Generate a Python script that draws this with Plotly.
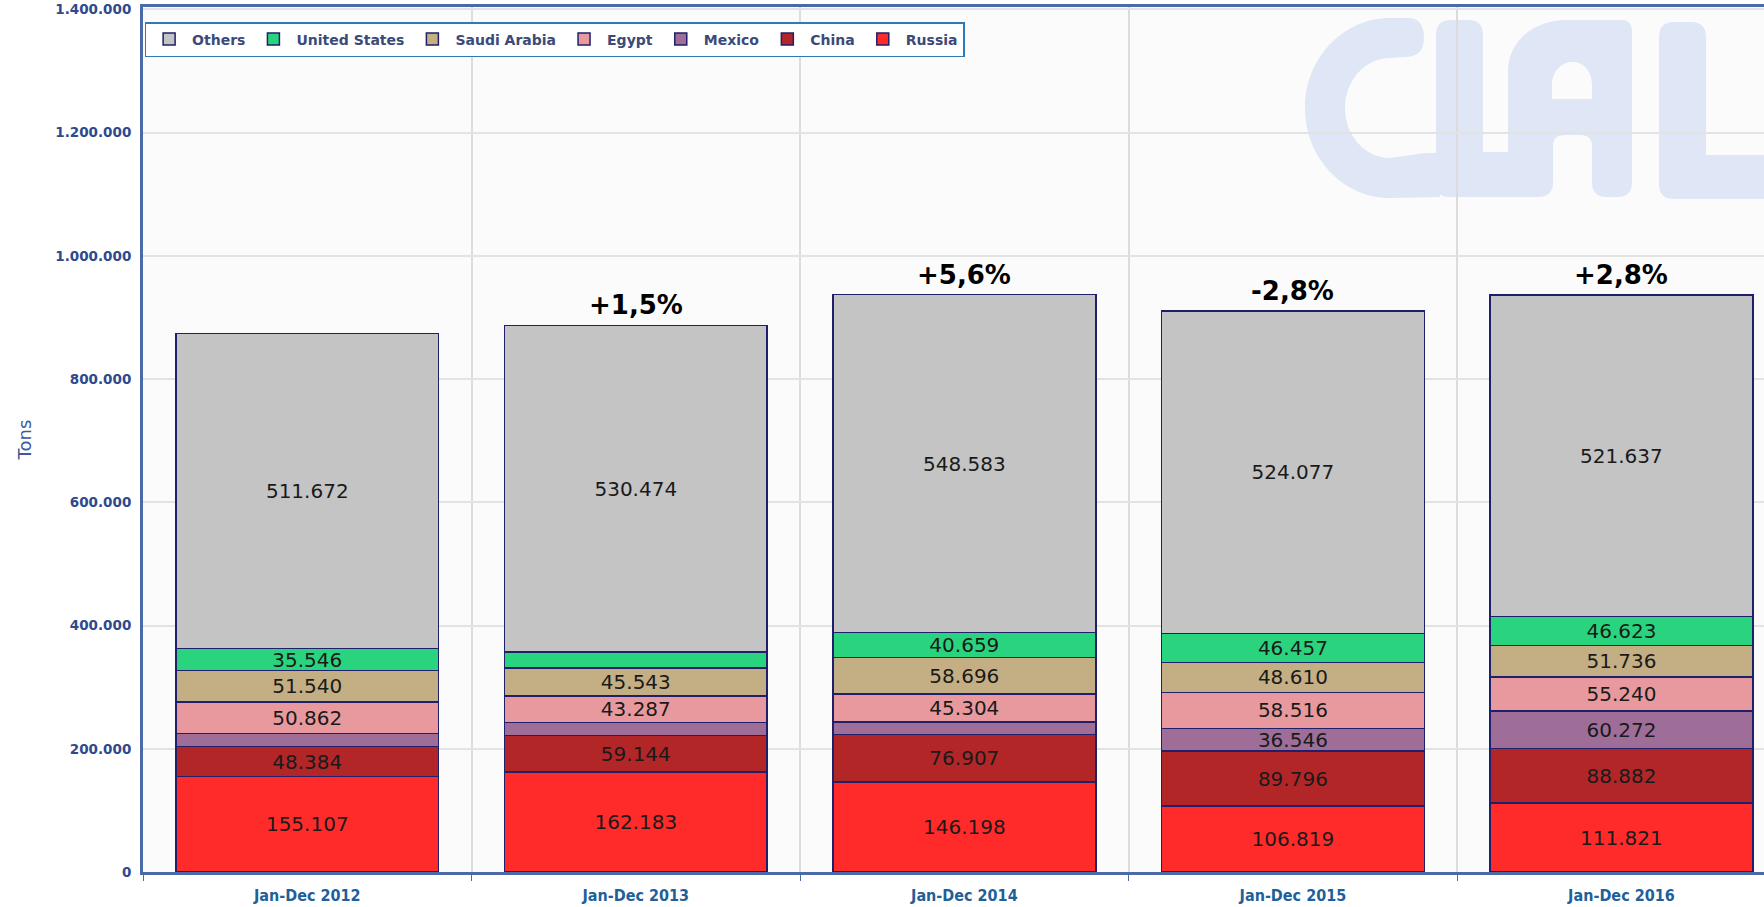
import plotly.graph_objects as go

categories = ["Jan-Dec 2012", "Jan-Dec 2013", "Jan-Dec 2014", "Jan-Dec 2015", "Jan-Dec 2016"]

russia = [155107, 162183, 146198, 106819, 111821]
china = [48384, 59144, 76907, 89796, 88882]
mexico = [21200, 21000, 20700, 36546, 60272]
egypt = [50862, 43287, 45304, 58516, 55240]
saudi_arabia = [51540, 45543, 58696, 48610, 51736]
united_states = [35546, 25800, 40659, 46457, 46623]
others = [511672, 530474, 548583, 524077, 521637]

# which values carry a visible label in the original
mexico_labels = ["", "", "", "36.546", "60.272"]
us_labels = ["35.546", "", "40.659", "46.457", "46.623"]

change_labels = ["", "+1,5%", "+5,6%", "-2,8%", "+2,8%"]

def fmt(v):
    return f"{v:,}".replace(",", ".")

series = [
    ("Russia", russia, "#ff2a2a", [fmt(v) for v in russia]),
    ("China", china, "#b22628", [fmt(v) for v in china]),
    ("Mexico", mexico, "#9e6e99", mexico_labels),
    ("Egypt", egypt, "#e8999e", [fmt(v) for v in egypt]),
    ("Saudi Arabia", saudi_arabia, "#c4ae84", [fmt(v) for v in saudi_arabia]),
    ("United States", united_states, "#2ad47e", us_labels),
    ("Others", others, "#c4c4c4", [fmt(v) for v in others]),
]

W, H = 1764, 907
ML, MR, MT, MB = 143, 0, 7, 35
PW, PH = W - ML - MR, H - MT - MB

fig = go.Figure()
for name, vals, color, labels in series:
    fig.add_trace(go.Bar(
        x=categories, y=vals, name=name,
        marker=dict(color=color, line=dict(color="#1f1f6b", width=1.5)),
        text=labels, textposition="inside", insidetextanchor="middle",
        textangle=0,
        textfont=dict(family="DejaVu Sans", size=20, color="#1a1a1a"),
        hoverinfo="x+y+name",
    ))

totals = [sum(s[1][i] for s in series) for i in range(len(categories))]
for cat, tot, lab in zip(categories, totals, change_labels):
    if lab:
        fig.add_annotation(x=cat, y=tot, text=f"<b>{lab}</b>", showarrow=False,
                           yanchor="bottom", yshift=3,
                           font=dict(family="DejaVu Sans", size=26, color="#000000"))

# ---- CLAL watermark drawn as decorative paths (pixel design -> paper coords)
def P(x, y):
    return f"{(x - ML) / PW:.5f},{(H - MB - y) / PH:.5f}"

def sub(cmds):
    out = []
    for c in cmds:
        op, pts = c[0], c[1:]
        out.append(op + " " + " ".join(P(pts[i], pts[i + 1]) for i in range(0, len(pts), 2)))
    return " ".join(out) + " Z"

k = 0.552
logo_C = sub([
    ("M", 1390, 18), ("L", 1408, 18), ("Q", 1424, 18, 1424, 38), ("Q", 1424, 57, 1405, 57),
    ("L", 1390, 58),
    ("C", 1390 - k * 45, 58, 1345, 108 - k * 50, 1345, 108),
    ("C", 1345, 108 + k * 50, 1390 - k * 45, 158, 1390, 158),
    ("L", 1425, 153), ("L", 1440, 153), ("L", 1440, 197), ("L", 1390, 198),
    ("C", 1390 - k * 85, 198, 1305, 108 + k * 90, 1305, 108),
    ("C", 1305, 108 - k * 90, 1390 - k * 85, 18, 1390, 18),
])
logo_L1 = sub([
    ("M", 1436, 35), ("Q", 1436, 20, 1451, 20), ("L", 1468, 20), ("Q", 1483, 20, 1483, 35),
    ("L", 1483, 152), ("L", 1510, 152), ("L", 1510, 197), ("L", 1450, 197),
    ("Q", 1436, 197, 1436, 185),
])
logo_A = sub([
    ("M", 1508, 197), ("L", 1508, 72), ("C", 1508, 40, 1535, 20, 1567, 20),
    ("L", 1622, 20), ("Q", 1632, 20, 1632, 32), ("L", 1632, 182),
    ("Q", 1632, 197, 1617, 197), ("L", 1607, 197), ("Q", 1592, 197, 1592, 182),
    ("L", 1592, 146), ("Q", 1592, 135, 1580, 135), ("L", 1565, 135),
    ("Q", 1553, 135, 1553, 146), ("L", 1553, 182), ("Q", 1553, 197, 1538, 197),
]) + " " + sub([
    ("M", 1552, 99), ("L", 1592, 99), ("L", 1592, 85),
    ("C", 1592, 70, 1583, 62, 1572, 62), ("C", 1561, 62, 1552, 72, 1552, 85),
])
logo_L2 = sub([
    ("M", 1659, 37), ("Q", 1659, 22, 1674, 22), ("L", 1691, 22), ("Q", 1706, 22, 1706, 37),
    ("L", 1706, 155), ("L", 1800, 155), ("L", 1800, 199), ("L", 1674, 199),
    ("Q", 1659, 199, 1659, 184),
])
for pth in (logo_C, logo_L1, logo_A, logo_L2):
    fig.add_shape(type="path", path=pth, xref="paper", yref="paper",
                  fillcolor="#dfe6f5", line=dict(width=0), layer="below")

fig.update_layout(
    width=W, height=H,
    margin=dict(l=ML, r=MR, t=MT, b=MB),
    barmode="stack", bargap=0.2,
    separators=",.",
    paper_bgcolor="#ffffff", plot_bgcolor="#fbfbfb",
    font=dict(family="DejaVu Sans"),
    uniformtext=dict(minsize=20, mode="show"),
    legend=dict(
        orientation="h", traceorder="reversed",
        x=0.001, y=(H - MB - 22) / PH, xanchor="left", yanchor="top",
        bgcolor="#ffffff", bordercolor="#2b7bb9", borderwidth=1.5,
        font=dict(family="DejaVu Sans", size=14, color="#3b4a78", weight="bold"),
        itemclick=False, itemwidth=36,
    ),
    xaxis=dict(
        type="category", tickson="boundaries", ticks="outside", ticklen=6,
        tickcolor="#4a6aa8", showgrid=True, gridcolor="#dcdcdc", gridwidth=1.5,
        showline=True, linecolor="#4a6aa8", linewidth=3, mirror=True,
        range=[-0.5, 4.434], automargin=False, ticklabelstandoff=7,
        tickfont=dict(family="DejaVu Sans Condensed, Roboto, sans-serif", size=16,
                      color="#1f5f9a", weight="bold"),
    ),
    yaxis=dict(
        range=[0, 1404000], tick0=0, dtick=200000, tickformat=",d",
        showgrid=True, gridcolor="#e3e3e3", gridwidth=1.5,
        showline=True, linecolor="#4a6aa8", linewidth=3,
        zeroline=False, automargin=False, ticklabeloverflow="allow",
        tickfont=dict(family="DejaVu Sans", size=13.5, color="#2e4a8c", weight="bold"),
        ticklabelstandoff=6,
        title=dict(text="Tons", font=dict(family="DejaVu Sans", size=18, color="#3a5a9a"), standoff=19),
    ),
)

fig.write_html("out.html", config={"displayModeBar": False},
               post_script="document.body.style.margin='0';")
